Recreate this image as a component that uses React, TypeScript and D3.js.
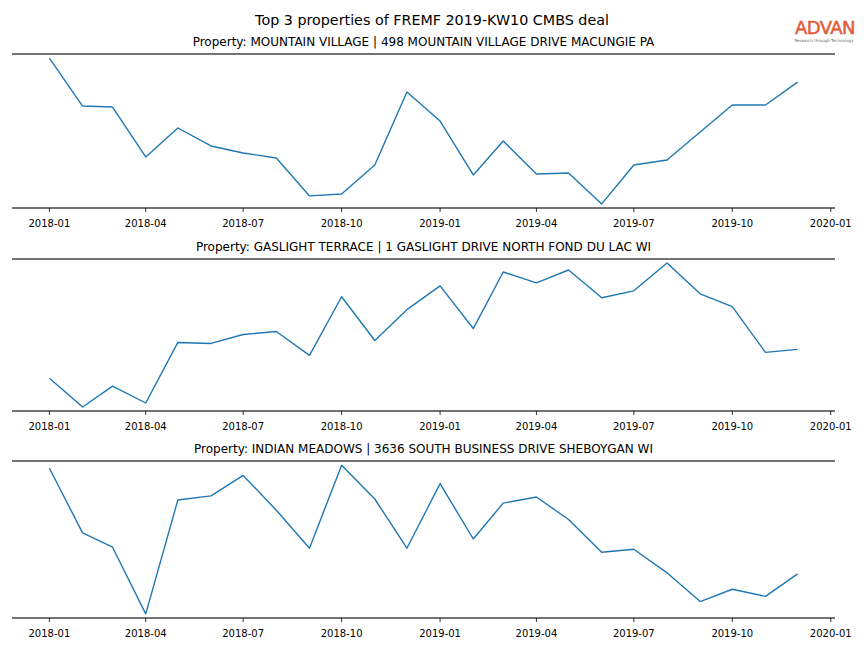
import React from "react";
import * as d3 from "d3";

const months: string[] = [
  "2018-01", "2018-02", "2018-03", "2018-04", "2018-05", "2018-06",
  "2018-07", "2018-08", "2018-09", "2018-10", "2018-11", "2018-12",
  "2019-01", "2019-02", "2019-03", "2019-04", "2019-05", "2019-06",
  "2019-07", "2019-08", "2019-09", "2019-10", "2019-11", "2019-12",
];

const titles: string[] = [
  "Property: MOUNTAIN VILLAGE | 498 MOUNTAIN VILLAGE DRIVE MACUNGIE PA",
  "Property: GASLIGHT TERRACE | 1 GASLIGHT DRIVE NORTH FOND DU LAC WI",
  "Property: INDIAN MEADOWS | 3636 SOUTH BUSINESS DRIVE SHEBOYGAN WI",
];

const mountainVillage: number[] = [
  152, 104, 103, 53, 82, 64, 57, 52, 14, 16, 45, 118,
  89, 35, 69, 36, 37, 6, 45, 50, 78, 105, 105, 128,
];
const gaslightTerrace: number[] = [
  32, 3, 24, 7, 68, 67, 76, 79, 55, 114, 70, 101,
  125, 82, 139, 128, 141, 113, 120, 148, 117, 104, 58, 61,
];
const indianMeadows: number[] = [
  148, 85, 71, 6, 117, 121, 141, 107, 70, 151, 118, 70,
  133, 79, 114, 120, 98, 66, 69, 46, 18, 30, 23, 45,
];

const seriesList = [mountainVillage, gaslightTerrace, indianMeadows];
const xTicks: string[] = [
  "2018-01", "2018-04", "2018-07", "2018-10", "2019-01",
  "2019-04", "2019-07", "2019-10", "2020-01",
];

const W = 864;
const H = 648;
const left = 12;
const right = 835;
const panelTops = [54, 259, 461];
const panelBottoms = [208, 411, 618];
const font = "DejaVu Sans, sans-serif";

const parse = d3.timeParse("%Y-%m");

export default function App() {
  const dates = months.map((m) => parse(m) as Date);
  const t0 = dates[0].getTime();
  const t1 = dates[dates.length - 1].getTime();
  const pad = (t1 - t0) * 0.05;
  const x = d3
    .scaleTime()
    .domain([new Date(t0 - pad), new Date(t1 + pad)])
    .range([left, right]);

  return (
    <svg width={W} height={H} style={{ position: "absolute", left: 0, top: 0, background: "#fff" }}>
      <rect x={0} y={0} width={W} height={H} fill="#fff" />
      <text x={432} y={25} textAnchor="middle" fontFamily={font} fontSize={14.3} fill="#000">
        Top 3 properties of FREMF 2019-KW10 CMBS deal
      </text>
      <g>
        <text x={825} y={34} textAnchor="middle" fontFamily={font} fontSize={18} fill="#e04b1f" stroke="#e04b1f" strokeWidth={0.5} letterSpacing={-0.6} opacity={0.9}>
          ADVAN
        </text>
        <text x={824} y={41.5} textAnchor="middle" fontFamily={font} fontSize={4} fill="#666">
          Research through Technology
        </text>
      </g>
      {seriesList.map((vals, i) => {
        const top = panelTops[i];
        const bottom = panelBottoms[i];
        const mn = d3.min(vals) as number;
        const mx = d3.max(vals) as number;
        const yp = (mx - mn) * 0.028;
        const y = d3.scaleLinear().domain([mn - yp, mx + yp]).range([bottom, top]);
        const line = d3
          .line<number>()
          .x((_, j) => x(dates[j]))
          .y((v) => y(v));
        return (
          <g key={i}>
            <text x={(left + right) / 2} y={top - 8} textAnchor="middle" fontFamily={font} fontSize={12} fill="#000">
              {titles[i]}
            </text>
            <path d={line(vals) || ""} fill="none" stroke="#1f77b4" strokeWidth={1.4} strokeLinejoin="round" />
            <line x1={left} x2={right} y1={top} y2={top} stroke="#444" strokeWidth={1.7} />
            <line x1={left} x2={right} y1={bottom} y2={bottom} stroke="#444" strokeWidth={1.7} />
            {xTicks.map((tk) => {
              const tx = x(parse(tk) as Date);
              return (
                <g key={tk}>
                  <line x1={tx} x2={tx} y1={bottom} y2={bottom + 4} stroke="#000" strokeWidth={0.8} />
                  <text x={tx} y={bottom + 18.5} textAnchor="middle" fontFamily={font} fontSize={10} fill="#000">
                    {tk}
                  </text>
                </g>
              );
            })}
          </g>
        );
      })}
    </svg>
  );
}
